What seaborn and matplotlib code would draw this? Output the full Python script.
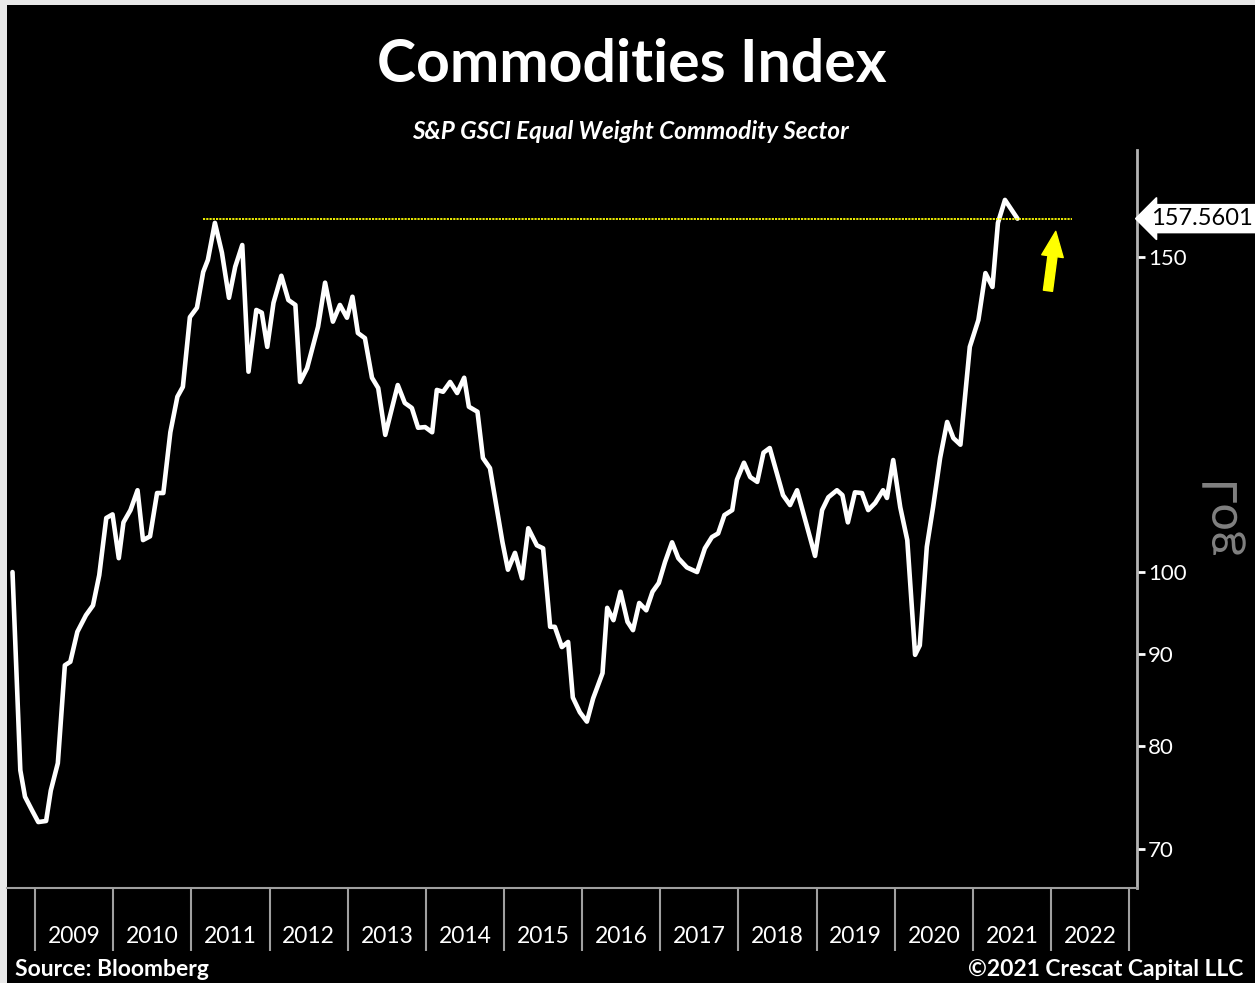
import matplotlib
matplotlib.use("Agg")
import matplotlib.pyplot as plt
from matplotlib.patches import Rectangle, PathPatch
from matplotlib.textpath import TextPath
from matplotlib.font_manager import FontProperties
from matplotlib.transforms import Affine2D
from matplotlib.ticker import FixedLocator, NullFormatter, NullLocator
import seaborn as sns

# S&P GSCI Equal Weight Commodity Sector (decimal years)
years = [
    2008.71, 2008.81, 2008.87, 2008.96, 2009.04, 2009.14, 2009.20, 2009.29, 2009.38, 2009.45,
    2009.54, 2009.65, 2009.74, 2009.82, 2009.91, 2009.99, 2010.07, 2010.13, 2010.22, 2010.31,
    2010.38, 2010.47, 2010.56, 2010.64, 2010.73, 2010.82, 2010.89, 2010.98, 2011.07, 2011.15,
    2011.21, 2011.30, 2011.39, 2011.48, 2011.56, 2011.65, 2011.73, 2011.83, 2011.90, 2011.97,
    2012.05, 2012.15, 2012.24, 2012.33, 2012.39, 2012.48, 2012.62, 2012.71, 2012.81, 2012.90,
    2012.99, 2013.06, 2013.13, 2013.22, 2013.31, 2013.39, 2013.48, 2013.64, 2013.73, 2013.82,
    2013.90, 2013.99, 2014.08, 2014.14, 2014.22, 2014.31, 2014.40, 2014.49, 2014.55, 2014.66,
    2014.73, 2014.82, 2014.98, 2015.05, 2015.14, 2015.23, 2015.31, 2015.42, 2015.50, 2015.59,
    2015.65, 2015.74, 2015.82, 2015.88, 2015.97, 2016.06, 2016.14, 2016.26, 2016.32, 2016.40,
    2016.49, 2016.58, 2016.65, 2016.73, 2016.82, 2016.90, 2016.98, 2017.06, 2017.15, 2017.23,
    2017.34, 2017.47, 2017.57, 2017.66, 2017.74, 2017.82, 2017.92, 2017.98, 2018.07, 2018.15,
    2018.24, 2018.32, 2018.40, 2018.49, 2018.57, 2018.66, 2018.75, 2018.98, 2019.07, 2019.15,
    2019.26, 2019.33, 2019.40, 2019.49, 2019.58, 2019.66, 2019.75, 2019.85, 2019.90, 2019.98,
    2020.07, 2020.16, 2020.26, 2020.32, 2020.41, 2020.49, 2020.58, 2020.67, 2020.75, 2020.84,
    2020.96, 2021.07, 2021.16, 2021.25, 2021.32, 2021.41, 2021.57,
]
values = [
    100.0, 77.5, 74.9, 73.6, 72.5, 72.6, 75.5, 78.2, 88.7, 89.1,
    92.6, 94.6, 95.8, 99.6, 107.2, 107.7, 101.8, 106.6, 108.3, 111.1,
    104.2, 104.7, 110.7, 110.7, 119.7, 125.3, 126.9, 138.8, 140.5, 147.1,
    149.4, 156.7, 150.8, 142.3, 148.1, 152.3, 129.4, 140.1, 139.6, 133.6,
    141.4, 146.4, 141.9, 141.0, 127.7, 130.0, 137.1, 145.1, 138.0, 141.0,
    138.7, 142.5, 136.0, 135.1, 128.4, 126.7, 119.3, 127.2, 124.3, 123.5,
    120.4, 120.5, 119.7, 126.4, 126.1, 127.7, 125.9, 128.4, 123.7, 122.9,
    115.8, 114.3, 103.9, 100.3, 102.5, 99.2, 105.8, 103.5, 103.1, 93.2,
    93.2, 90.8, 91.4, 85.1, 83.5, 82.5, 85.0, 87.8, 95.5, 94.0,
    97.5, 93.8, 92.8, 96.1, 95.2, 97.5, 98.6, 101.3, 103.9, 101.8,
    100.6, 100.0, 103.1, 104.6, 105.1, 107.6, 108.3, 112.6, 115.1, 113.0,
    112.3, 116.6, 117.3, 113.6, 110.4, 109.0, 111.1, 102.1, 108.3, 110.1,
    111.1, 110.4, 106.6, 110.8, 110.7, 108.3, 109.3, 111.1, 110.0, 115.5,
    108.7, 104.2, 89.9, 91.0, 103.3, 108.7, 115.8, 121.3, 118.8, 117.8,
    133.6, 138.3, 146.9, 144.3, 156.7, 161.4, 157.56,
]
last_value = 157.5601
ref_level = 157.56
ref_span = [2011.15, 2022.27]

year_edges = list(range(2009, 2024))
year_labels = [str(y) for y in range(2009, 2023)]
y_ticks = [70, 80, 90, 100, 150]

sns.set_theme(style="dark")
plt.rcParams["font.family"] = ["Lato", "DejaVu Sans"]

fig = plt.figure(figsize=(12.55, 9.83), dpi=100, facecolor="#e9e9e9")
fig.add_artist(Rectangle((7 / 1255, 0), 1, 1 - 5 / 983, transform=fig.transFigure,
                         facecolor="black", edgecolor="none", zorder=-5))
ax = fig.add_axes([0.0056, 0.0966, 0.9004, 0.7508])
ax.set_facecolor("black")

sns.lineplot(x=years, y=values, color="white", linewidth=3.3, ax=ax)

ax.plot(ref_span, [ref_level, ref_level], color="#ffff00", linewidth=1.3, linestyle=(0, (1.2, 0.6)))
ax.annotate("", xy=(2022.06, 155.0), xytext=(2021.96, 143.6),
            arrowprops=dict(arrowstyle="simple,head_width=1.3,head_length=1.5,tail_width=0.55",
                            color="#ffff00", mutation_scale=12, shrinkA=0, shrinkB=0))

ax.set_yscale("log")
ax.set_ylim(66.6, 172.1)
ax.set_xlim(2008.64, 2023.10)

ax.yaxis.tick_right()
ax.yaxis.set_major_locator(FixedLocator(y_ticks))
ax.set_yticklabels([str(t) for t in y_ticks])
ax.yaxis.set_minor_locator(NullLocator())
ax.yaxis.set_minor_formatter(NullFormatter())
ax.tick_params(axis="y", which="major", right=True, left=False, direction="out", length=6, width=2,
               color="white", labelcolor="white", labelsize=16, pad=2)

ax.xaxis.set_major_locator(FixedLocator(year_edges))
ax.xaxis.set_major_formatter(NullFormatter())
ax.xaxis.set_minor_locator(FixedLocator([y + 0.5 for y in range(2009, 2023)]))
ax.set_xticklabels(year_labels, minor=True)
ax.tick_params(axis="x", which="major", bottom=True, direction="out", length=45, width=1.5, color="#a0a0a0")
ax.tick_params(axis="x", which="minor", bottom=True, length=0, labelcolor="white", labelsize=16.5, pad=27)
ax.grid(False)

for side in ["top", "left"]:
    ax.spines[side].set_visible(False)
ax.spines["right"].set_color("#b4b4b4")
ax.spines["right"].set_linewidth(2)
ax.spines["bottom"].set_color("#a0a0a0")
ax.spines["bottom"].set_linewidth(1.5)

ax.text(1.012, ref_level, f"{last_value:.4f}", transform=ax.get_yaxis_transform(), ha="left", va="center",
        fontsize=17, color="black", clip_on=False,
        bbox=dict(boxstyle="larrow,pad=0.15", facecolor="white", edgecolor="white"))

fig.text(0.503, 0.934, "Commodities Index", ha="center", va="center", fontsize=42.5, fontweight="bold",
         color="white")
fig.text(0.502, 0.866, "S&P GSCI Equal Weight Commodity Sector", ha="center", va="center", fontsize=17.5,
         fontweight="bold", fontstyle="italic", color="white")
fig.text(0.012, 0.014, "Source: Bloomberg", ha="left", va="center", fontsize=16.5, fontweight="bold",
         color="white")
fig.text(0.991, 0.014, "©2021 Crescat Capital LLC", ha="right", va="center", fontsize=16.5,
         fontweight="bold", color="white")

# mirrored, rotated "Log" marker as in the original terminal screenshot
log_path = TextPath((0, 0), "Log", size=40, prop=FontProperties(family="Lato"))
bb = log_path.get_extents()
k = 72 / bb.width
log_tr = (Affine2D().translate(-(bb.x0 + bb.x1) / 2, -(bb.y0 + bb.y1) / 2).scale(k)
          .rotate_deg(-90).scale(-1, 1).translate(1224, 983 - 519))
fig.add_artist(PathPatch(log_path, transform=log_tr, facecolor="#7f7f7f", edgecolor="none"))

fig.savefig("out.png", dpi=100, facecolor=fig.get_facecolor())
